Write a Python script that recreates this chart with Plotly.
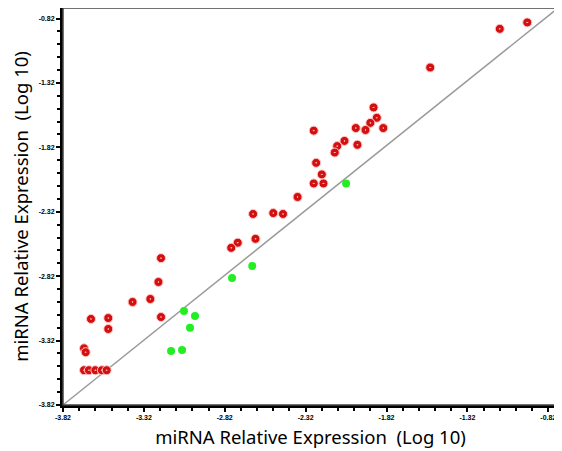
"""miRNA relative expression scatter — reproduced with Plotly."""

import plotly.graph_objects as go

# red points (above the identity line)
red_x = [-0.95, -1.12, -1.55, -1.90, -1.88, -1.92, -1.84, -2.01, -1.95, -2.27,
         -2.08, -2.125, -2.00, -2.14, -2.255, -2.22, -2.27, -2.21, -2.37,
         -2.645, -2.52, -2.46, -2.63, -2.74, -2.78, -3.214, -3.23, -3.28,
         -3.39, -3.214, -3.647, -3.54, -3.54, -3.69, -3.68,
         -3.69, -3.66, -3.62, -3.58, -3.55]
red_y = [-0.85, -0.90, -1.20, -1.51, -1.59, -1.63, -1.67, -1.67, -1.685, -1.69,
         -1.77, -1.81, -1.80, -1.86, -1.94, -2.03, -2.10, -2.10, -2.205,
         -2.337, -2.33, -2.337, -2.53, -2.56, -2.60, -2.68, -2.865, -2.997,
         -3.02, -3.137, -3.152, -3.145, -3.23, -3.38, -3.41,
         -3.55, -3.55, -3.55, -3.55, -3.55]

# green points (below the identity line)
green_x = [-2.07, -2.65, -2.775, -3.072, -3.004, -3.035, -3.152, -3.084]
green_y = [-2.10, -2.74, -2.834, -3.09, -3.13, -3.22, -3.40, -3.393]

tick_vals = [-3.82, -3.32, -2.82, -2.32, -1.82, -1.32, -0.82]
tick_text = ["-3.82", "-3.32", "-2.82", "-2.32", "-1.82", "-1.32", "-0.82"]

x_range = [-3.82, -0.76]
y_range = [-3.82, -0.738]

TITLE = "miRNA Relative Expression  (Log 10)"
TITLE_FONT = {"size": 18.5, "family": "Noto Sans, Open Sans, Arial", "color": "black"}

fig = go.Figure()
fig.add_trace(go.Scatter(
    x=red_x, y=red_y, mode="markers",
    marker={"symbol": "circle-dot", "size": 9, "color": "#d40f0f",
            "line": {"color": "#ffc8c8", "width": 1}},
    showlegend=False,
))
fig.add_trace(go.Scatter(
    x=green_x, y=green_y, mode="markers",
    marker={"size": 8, "color": "#22ee22", "line": {"width": 0}},
    showlegend=False,
))

# identity diagonal from corner to corner
fig.add_shape(type="line", xref="paper", yref="paper", x0=0, y0=0, x1=1, y1=1,
              line={"color": "#9a9a9a", "width": 1.5}, layer="below")
# thin frame on top/right
fig.add_shape(type="rect", xref="paper", yref="paper", x0=0, y0=0, x1=1, y1=1,
              line={"color": "#444444", "width": 1.5})

axis_common = dict(
    tickmode="array", tickvals=tick_vals, ticktext=tick_text,
    showgrid=False, zeroline=False, automargin=False,
    showline=True, linecolor="black", linewidth=3,
    ticks="outside", ticklen=4, tickwidth=2, tickcolor="black",
    tickfont={"size": 7, "color": "black", "weight": "bold", "family": "Arial"},
    minor={"tick0": -3.82, "dtick": 0.1, "ticks": "outside", "ticklen": 3,
           "tickwidth": 2, "tickcolor": "black"},
)

# page body has an 8px margin, so margins are offset to keep the plot box in place
fig.update_layout(
    width=562, height=451,
    margin={"l": 55, "r": 12, "t": 0, "b": 54},
    plot_bgcolor="white", paper_bgcolor="white",
    xaxis={**axis_common, "range": x_range,
           "title": {"text": TITLE, "font": TITLE_FONT, "standoff": 11}},
    yaxis={**axis_common, "range": y_range,
           "title": {"text": TITLE, "font": TITLE_FONT, "standoff": 11}},
)

fig.write_html("out.html")
